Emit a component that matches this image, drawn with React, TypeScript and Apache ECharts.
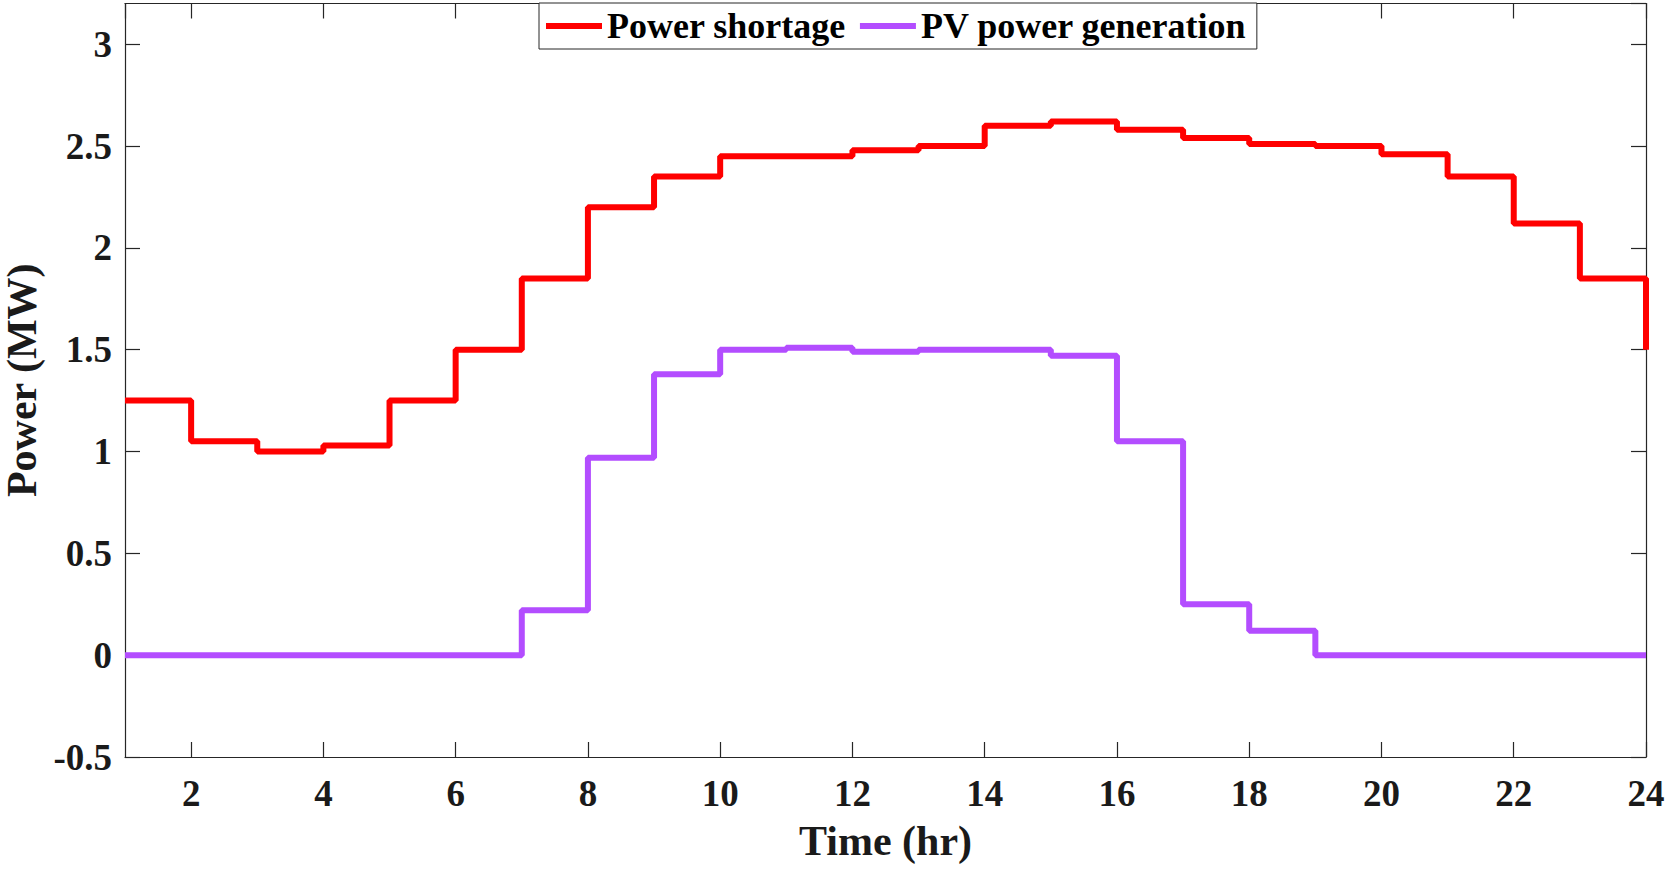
import React, { useEffect, useRef } from 'react';
import * as echarts from 'echarts';

// hours 1..24, stairs values (value i holds from hour i to hour i+1)
const hours = [1, 2, 3, 4, 5, 6, 7, 8, 9, 10, 11, 12, 13, 14, 15, 16, 17, 18, 19, 20, 21, 22, 23, 24];
const powerShortage = [
  1.25, 1.05, 1.0, 1.03, 1.25, 1.5, 1.85, 2.2, 2.35, 2.45, 2.45, 2.48,
  2.5, 2.6, 2.62, 2.58, 2.54, 2.51, 2.5, 2.46, 2.35, 2.12, 1.85, 1.5,
];
const pvGeneration = [
  0, 0, 0, 0, 0, 0, 0.22, 0.97, 1.38, 1.5, 1.51, 1.49,
  1.5, 1.5, 1.47, 1.05, 0.25, 0.12, 0, 0, 0, 0, 0, 0,
];

const FONT = '"Liberation Serif", "Times New Roman", serif';
const AXIS_COLOR = '#262626';

const App: React.FC = () => {
  const chartRef = useRef<HTMLDivElement>(null);

  useEffect(() => {
    if (!chartRef.current) return;

    const chart = echarts.init(chartRef.current, undefined, { renderer: 'svg' });

    const axisLine = { show: true, onZero: false, lineStyle: { color: AXIS_COLOR, width: 1.2 } };
    const axisTick = { show: true, inside: true, length: 15, lineStyle: { color: AXIS_COLOR, width: 1.2 } };
    const tickFont = { color: '#1a1a1a', fontFamily: FONT, fontWeight: 'bold' as const, fontSize: 37 };
    const nameFont = { color: '#1a1a1a', fontFamily: FONT, fontWeight: 'bold' as const, fontSize: 42 };

    const xBase = { type: 'value' as const, min: 1, max: 24, minInterval: 2, maxInterval: 2, splitLine: { show: false } };
    const yBase = { type: 'value' as const, min: -0.5, max: 3.2, minInterval: 0.5, maxInterval: 0.5, splitLine: { show: false } };

    const option: echarts.EChartsOption = {
      animation: false,
      backgroundColor: '#ffffff',
      grid: {
        left: 125,
        right: 21,
        top: 3.5,
        bottom: 112,
        containLabel: false,
        outerBoundsMode: 'none',
      } as any,
      legend: {
        left: 539,
        top: 3,
        padding: [5, 10, 5, 7],
        itemGap: 14,
        itemWidth: 56,
        itemHeight: 6,
        icon: 'rect',
        borderColor: '#262626',
        borderWidth: 1,
        backgroundColor: '#ffffff',
        textStyle: { color: '#000', fontFamily: FONT, fontWeight: 'bold', fontSize: 36 },
        data: ['Power shortage', 'PV power generation'],
      },
      xAxis: [
        {
          ...xBase,
          position: 'bottom',
          name: 'Time (hr)',
          nameLocation: 'middle',
          nameGap: 63,
          nameTextStyle: nameFont,
          axisLine,
          axisTick,
          axisLabel: { ...tickFont, margin: 18, showMinLabel: false },
        },
        {
          ...xBase,
          position: 'top',
          axisLine,
          axisTick,
          axisLabel: { show: false },
        },
      ],
      yAxis: [
        {
          ...yBase,
          position: 'left',
          name: 'Power (MW)',
          nameLocation: 'middle',
          nameGap: 78,
          nameTextStyle: nameFont,
          axisLine,
          axisTick,
          axisLabel: { ...tickFont, margin: 13, showMaxLabel: false },
        },
        {
          ...yBase,
          position: 'right',
          axisLine,
          axisTick,
          axisLabel: { show: false },
        },
      ],
      series: [
        {
          name: 'Power shortage',
          type: 'line',
          step: 'end',
          xAxisIndex: 0,
          yAxisIndex: 0,
          symbol: 'none',
          data: hours.map((h, i) => [h, powerShortage[i]]),
          lineStyle: { color: '#FF0000', width: 6 },
          itemStyle: { color: '#FF0000' },
          z: 3,
        },
        {
          name: 'PV power generation',
          type: 'line',
          step: 'end',
          xAxisIndex: 0,
          yAxisIndex: 0,
          symbol: 'none',
          data: hours.map((h, i) => [h, pvGeneration[i]]),
          lineStyle: { color: '#B34DFF', width: 6 },
          itemStyle: { color: '#B34DFF' },
          z: 2,
        },
      ],
    };

    chart.setOption(option);

    return () => {
      chart.dispose();
    };
  }, []);

  return (
    <div
      ref={chartRef}
      style={{ position: 'absolute', left: 0, top: 0, width: 1667, height: 869 }}
    />
  );
};

export default App;
